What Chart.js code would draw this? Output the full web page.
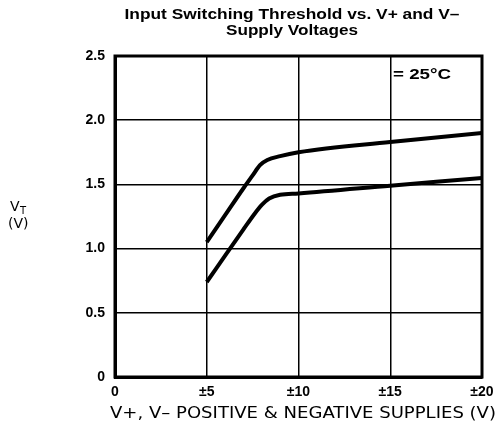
<!DOCTYPE html>
<html>
<head>
<meta charset="utf-8">
<script src="https://cdn.jsdelivr.net/npm/chart.js@4"></script>
<style>
  html, body { margin: 0; padding: 0; background: #fff; }
  #wrap { width: 502px; height: 432px; position: relative; }
</style>
</head>
<body>
<div id="wrap"><canvas id="myChart"></canvas></div>
<script>
// supply voltage (±V) and threshold (V)
const upperX = [5, 6, 7, 7.5, 7.9, 8.3, 9, 10, 15, 20];
const upperY = [1.05, 1.26, 1.47, 1.57, 1.65, 1.69, 1.72, 1.75, 1.83, 1.90];
const lowerX = [5, 6, 7, 7.6, 8.0, 8.4, 9, 10, 15, 20];
const lowerY = [0.74, 0.945, 1.15, 1.27, 1.34, 1.39, 1.42, 1.43, 1.49, 1.55];
const xTicks = [0, 5, 10, 15, 20];
const xTickLabels = ["0", "±5", "±10", "±15", "±20"];
const yTicks = [0, 0.5, 1.0, 1.5, 2.0, 2.5];

const toPts = (xs, ys) => xs.map((x, i) => ({x: x, y: ys[i]}));
const font = "'Liberation Sans', Arial, sans-serif";
const wideFont = "'DejaVu Sans', 'Liberation Sans', sans-serif";

// draw text centred at cx, stretched to the given width
function fitText(ctx, text, cx, y, width) {
    const w = ctx.measureText(text).width;
    ctx.save();
    ctx.translate(cx, y);
    ctx.scale(width / w, 1);
    ctx.textAlign = 'center';
    ctx.fillText(text, 0, 0);
    ctx.restore();
}

const textPlugin = {
    id: 'texts',
    afterDraw(chart) {
        const ctx = chart.ctx;
        const a = chart.chartArea;
        ctx.save();
        // frame
        ctx.strokeStyle = '#000';
        ctx.lineWidth = 3;
        ctx.strokeRect(a.left, a.top, a.right - a.left, a.bottom - a.top);
        ctx.fillStyle = '#000';
        ctx.textBaseline = 'middle';
        ctx.font = "bold 15px " + font;
        fitText(ctx, "Input Switching Threshold vs. V+ and V\u2013", 292, 15, 335);
        fitText(ctx, "Supply Voltages", 292, 31, 132);
        // temperature note
        ctx.font = "bold 14px " + font;
        fitText(ctx, "= 25\u00B0C", 422, 75, 58);
        // y title
        ctx.textAlign = 'left';
        ctx.font = "14px " + wideFont;
        ctx.fillText("V", 10, 207);
        ctx.font = "10px " + wideFont;
        ctx.fillText("T", 20, 211);
        ctx.font = "14px " + wideFont;
        ctx.fillText("(V)", 8, 224);
        // x title
        ctx.font = "15px " + wideFont;
        fitText(ctx, "V+, V\u2013 POSITIVE & NEGATIVE SUPPLIES (V)", 303, 414, 386);
        ctx.restore();
    }
};

new Chart(document.getElementById('myChart').getContext('2d'), {
    type: 'scatter',
    data: {
        datasets: [
            {
                data: toPts(upperX, upperY),
                showLine: true,
                borderColor: '#000',
                borderWidth: 4,
                pointRadius: 0,
                cubicInterpolationMode: 'monotone'
            },
            {
                data: toPts(lowerX, lowerY),
                showLine: true,
                borderColor: '#000',
                borderWidth: 4,
                pointRadius: 0,
                cubicInterpolationMode: 'monotone'
            }
        ]
    },
    options: {
        responsive: true,
        maintainAspectRatio: false,
        animation: false,
        layout: { padding: { left: 0, right: 20, top: 56, bottom: 0 } },
        plugins: { legend: { display: false }, tooltip: { enabled: false } },
        scales: {
            x: {
                type: 'linear',
                min: 0, max: 20,
                afterBuildTicks: s => { s.ticks = xTicks.map(v => ({value: v})); },
                afterFit: s => { s.height = 55; },
                grid: { color: '#000', lineWidth: 1.5, drawTicks: false },
                border: { color: '#000', width: 3 },
                ticks: {
                    padding: 7,
                    color: '#000',
                    font: { family: font, size: 14, weight: 'bold' },
                    callback: v => xTickLabels[xTicks.indexOf(v)]
                }
            },
            y: {
                min: 0, max: 2.5,
                afterBuildTicks: s => { s.ticks = yTicks.map(v => ({value: v})); },
                afterFit: s => { s.width = 115; },
                grid: { color: '#000', lineWidth: 1.5, drawTicks: false },
                border: { color: '#000', width: 3 },
                ticks: {
                    padding: 10,
                    color: '#000',
                    font: { family: font, size: 14, weight: 'bold' },
                    callback: v => v === 0 ? "0" : v.toFixed(1)
                }
            }
        }
    },
    plugins: [textPlugin]
});
</script>
</body>
</html>
